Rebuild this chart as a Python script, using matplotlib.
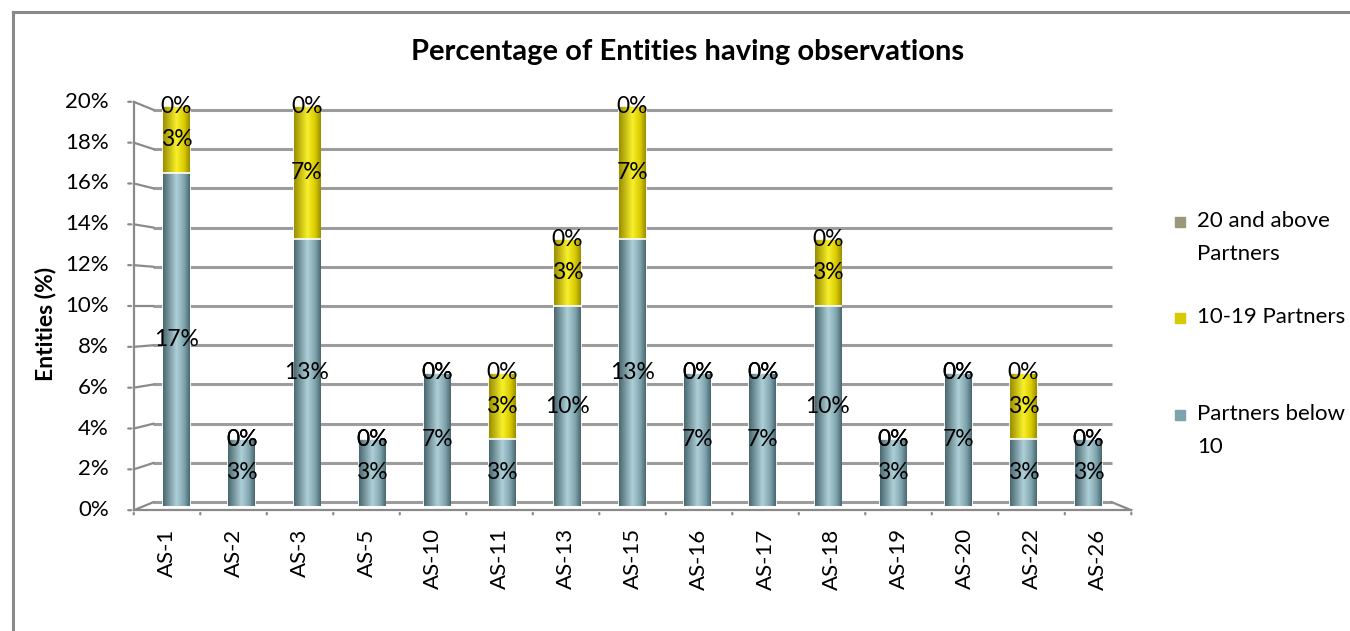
import matplotlib.pyplot as plt
import numpy as np
from matplotlib.colors import LinearSegmentedColormap
from matplotlib.lines import Line2D
from matplotlib.patches import Rectangle

plt.rcParams["font.family"] = ["Lato", "DejaVu Sans"]

categories = ["AS-1", "AS-2", "AS-3", "AS-5", "AS-10", "AS-11", "AS-13", "AS-15",
              "AS-16", "AS-17", "AS-18", "AS-19", "AS-20", "AS-22", "AS-26"]
below_10 = [16.67, 3.33, 13.33, 3.33, 6.67, 3.33, 10.0, 13.33,
            6.67, 6.67, 10.0, 3.33, 6.67, 3.33, 3.33]
partners_10_19 = [3.33, 0, 6.67, 0, 0, 3.33, 3.33, 6.67,
                  0, 0, 3.33, 0, 0, 3.33, 0]
above_20 = [0] * 15
series_names = ["Partners below 10", "10-19 Partners", "20 and above Partners"]
legend_labels = ["Partners below\n10", "10-19 Partners", "20 and above\nPartners"]
y_ticks = [0, 2, 4, 6, 8, 10, 12, 14, 16, 18, 20]

# base colour, dark edge, highlight for the cylinder look
series_colors = [
    ("#7fa3ad", "#4a6870", "#aed0d8"),
    ("#d8ca00", "#9a8e00", "#f8f02c"),
    ("#9a9878", "#66654c", "#c3c1a2"),
]

fig = plt.figure(figsize=(13.5, 6.31), dpi=100)
ax = fig.add_axes([0.1067, 0.1981, 0.7237, 0.6339])
ax.set_xlim(-0.5, 14.5)
ax.set_ylim(0, 20)
ax.axis("off")

xc, yc = 7.0, 10.0


def plane(x, v, s):
    # s > 1 pulls toward the viewer (front), s < 1 pushes back
    return xc + (np.asarray(x) - xc) * s, yc + (np.asarray(v) - yc) * s


FRONT, BACK = 1.021, 0.981
grid_col = "#9c9c9c"
axis_col = "#8a8a8a"
fs = 16

# back wall gridlines and the little depth connectors on the left
for v in y_ticks:
    bx, by = plane([-0.5, 14.5], [v, v], BACK)
    ax.plot(bx, by, color=grid_col, lw=2.2, zorder=1, clip_on=False, solid_capstyle="butt")
    fx, fy = plane(-0.5, v, FRONT)
    ax.plot([fx, bx[0]], [fy, by[0]], color=axis_col, lw=1.6, zorder=1, clip_on=False)
    ax.annotate("", xy=(fx, fy), xytext=(-6, 0), textcoords="offset points",
                arrowprops=dict(arrowstyle="-", color=axis_col, lw=1.6), annotation_clip=False)
    ax.annotate(f"{v}%", xy=(fx, fy), xytext=(-18, 0), textcoords="offset points",
                ha="right", va="center", fontsize=fs, annotation_clip=False)

# floor edges and front axes
fx, fy = plane([-0.5, 14.5], [0, 0], FRONT)
bx, by = plane([-0.5, 14.5], [0, 0], BACK)
ax.plot(fx, fy, color=axis_col, lw=1.6, zorder=1, clip_on=False)
ax.plot([bx[1], fx[1]], [by[1], fy[1]], color=axis_col, lw=1.6, zorder=1, clip_on=False)
lx, ly = plane([-0.5, -0.5], [0, 20], FRONT)
ax.plot(lx, ly, color=axis_col, lw=1.6, zorder=1, clip_on=False)
for k in range(len(categories) + 1):
    tx, ty = plane(k - 0.5, 0, FRONT)
    ax.annotate("", xy=(tx, ty), xytext=(0, -5), textcoords="offset points",
                arrowprops=dict(arrowstyle="-", color=axis_col, lw=1.6), annotation_clip=False)
for k, name in enumerate(categories):
    tx, ty = plane(k, 0, FRONT)
    ax.annotate(name, xy=(tx, ty), xytext=(0, -13), textcoords="offset points",
                rotation=90, ha="center", va="top", fontsize=fs, annotation_clip=False)

# stacked cylinders with horizontal shading
x = np.arange(len(categories))
width = 0.41
bottom = np.zeros(len(categories))
grad = np.linspace(0, 1, 64)[None, :]
for vals, (base, dark, light) in zip([below_10, partners_10_19, above_20], series_colors):
    vals = np.array(vals, dtype=float)
    cmap = LinearSegmentedColormap.from_list(
        "cyl", [(0, dark), (0.5, light), (0.8, base), (1, dark)])
    bars = ax.bar(x, vals, width, bottom=bottom, color=base, edgecolor="white",
                  linewidth=1.2, zorder=3)
    for rect in bars:
        h = rect.get_height()
        if h <= 0:
            continue
        x0, y0 = rect.get_x(), rect.get_y()
        im = ax.imshow(grad, cmap=cmap, aspect="auto", zorder=3.5,
                       extent=[x0, x0 + rect.get_width(), y0, y0 + h], interpolation="bilinear")
        im.set_clip_path(rect)
        ax.add_line(Line2D([x0, x0 + rect.get_width()], [y0 + h, y0 + h], color="white",
                           lw=1.2, zorder=3.6))
    for xi, b, v in zip(x, bottom, vals):
        ax.text(xi, b + v / 2, f"{v:.0f}%", ha="center", va="center", fontsize=fs + 0.5,
                zorder=5, color="black")
    bottom += vals
ax.set_xlim(-0.5, 14.5)
ax.set_ylim(0, 20)

fig.text(0.5096, 0.917, "Percentage of Entities having observations", ha="center",
         va="center", fontsize=21, fontweight="bold")
fig.text(0.034, 0.487, "Entities (%)", rotation=90, ha="center", va="center",
         fontsize=16.5, fontweight="bold")

# legend, top entry first
leg_y = [0.648, 0.496, 0.342]
for label, cols, yy in zip(reversed(legend_labels), reversed(series_colors), leg_y):
    fig.patches.append(Rectangle((0.8704, yy - 0.008), 0.0074, 0.0158, color=cols[0],
                                 transform=fig.transFigure, figure=fig))
    fig.text(0.8867, yy + 0.018, label, ha="left", va="top", fontsize=fs,
             linespacing=1.85)

# chart area border
fig.add_artist(Line2D([0.0096, 0.0096], [0, 0.981], color="#8a8a8a", lw=2.2))
fig.add_artist(Line2D([0.0096, 1.0], [0.981, 0.981], color="#8a8a8a", lw=2.2))

fig.savefig("out.png", dpi=100)
